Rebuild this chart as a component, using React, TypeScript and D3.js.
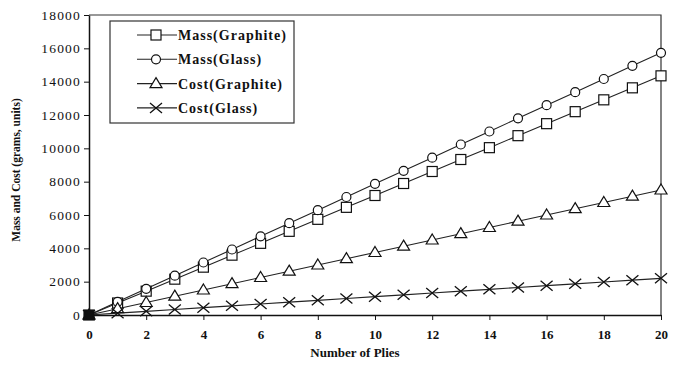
import React, { useEffect, useRef } from "react";
import * as d3 from "d3";

// number of plies on the x axis
const plies = [0, 1, 2, 3, 4, 5, 6, 7, 8, 9, 10, 11, 12, 13, 14, 15, 16, 17, 18, 19, 20];

// values
const massGraphite = [0, 720, 1430, 2150, 2870, 3590, 4300, 5020, 5740, 6460, 7170, 7890, 8610, 9330, 10040, 10760, 11480, 12200, 12910, 13630, 14350];
const massGlass = [0, 790, 1570, 2360, 3150, 3930, 4720, 5510, 6290, 7080, 7870, 8650, 9440, 10230, 11010, 11800, 12590, 13370, 14160, 14950, 15730];
const costGraphite = [0, 380, 750, 1130, 1500, 1880, 2250, 2630, 3000, 3380, 3750, 4130, 4500, 4880, 5250, 5630, 6000, 6380, 6750, 7130, 7500];
const costGlass = [0, 110, 220, 330, 440, 550, 660, 770, 880, 990, 1100, 1210, 1320, 1430, 1540, 1650, 1760, 1870, 1980, 2090, 2200];

const seriesNames = ["Mass(Graphite)", "Mass(Glass)", "Cost(Graphite)", "Cost(Glass)"];
const seriesShapes = ["square", "circle", "triangle", "cross"];
const xTicks = [0, 2, 4, 6, 8, 10, 12, 14, 16, 18, 20];
const yTicks = [0, 2000, 4000, 6000, 8000, 10000, 12000, 14000, 16000, 18000];

const W = 686;
const H = 365;
const margin = { top: 15, right: 25, bottom: 50, left: 89 };
const FONT = "'Liberation Serif', 'DejaVu Serif', serif";

const drawMarker = (g: any, shape: string, x: number, y: number, filled: boolean) => {
    const fill = filled ? "#111" : "#fff";
    if (shape === "square") {
        g.append("rect").attr("x", x - 5).attr("y", y - 5).attr("width", 10).attr("height", 10)
            .attr("fill", fill).attr("stroke", "#111").attr("stroke-width", 1.2);
    } else if (shape === "circle") {
        g.append("circle").attr("cx", x).attr("cy", y).attr("r", 4.5)
            .attr("fill", fill).attr("stroke", "#111").attr("stroke-width", 1.2);
    } else if (shape === "triangle") {
        g.append("path").attr("d", `M${x},${y - 6}L${x + 6},${y + 4}L${x - 6},${y + 4}Z`)
            .attr("fill", fill).attr("stroke", "#111").attr("stroke-width", 1.2);
    } else {
        g.append("path").attr("d", `M${x - 6},${y - 5}L${x + 6},${y + 5}M${x - 6},${y + 5}L${x + 6},${y - 5}`)
            .attr("fill", "none").attr("stroke", "#111").attr("stroke-width", 1.3);
    }
};

export default function App() {
    const ref = useRef<SVGSVGElement>(null);

    useEffect(() => {
        const svg = d3.select(ref.current);
        svg.selectAll("*").remove();

        const width = W - margin.left - margin.right;
        const height = H - margin.top - margin.bottom;

        const x = d3.scaleLinear().domain([0, 20]).range([0, width]);
        const y = d3.scaleLinear().domain([0, 18000]).range([height, 0]);

        const g = svg.append("g").attr("transform", `translate(${margin.left},${margin.top})`);

        // frame: top and right
        g.append("path").attr("d", `M0,0H${width}V${height}`).attr("fill", "none").attr("stroke", "#333").attr("stroke-width", 1.2);

        // x axis
        const xa = g.append("g").attr("transform", `translate(0,${height})`)
            .call(d3.axisBottom(x).tickValues(xTicks).tickSize(5).tickSizeOuter(0).tickFormat(d3.format("d")));
        xa.select(".domain").attr("stroke", "#111").attr("stroke-width", 1.5);
        xa.selectAll("line").attr("stroke", "#111");
        xa.selectAll("text").attr("font-family", FONT).attr("font-size", 13).attr("font-weight", "bold").attr("fill", "#111").attr("dy", "1.2em");

        // y axis
        const ya = g.append("g")
            .call(d3.axisLeft(y).tickValues(yTicks).tickSize(5).tickSizeOuter(0).tickFormat(d3.format("d")));
        ya.select(".domain").attr("stroke", "#111").attr("stroke-width", 1.5);
        ya.selectAll("line").attr("stroke", "#111");
        ya.selectAll("text").attr("font-family", FONT).attr("font-size", 13.5).attr("letter-spacing", 1.2)
            .attr("fill", "#111").attr("x", -8);

        // series
        const allSeries = [massGraphite, massGlass, costGraphite, costGlass];
        const line = d3.line<number>().x((d, i) => x(plies[i])).y(d => y(d));
        allSeries.forEach((vals) => {
            g.append("path").datum(vals).attr("d", line).attr("fill", "none").attr("stroke", "#222").attr("stroke-width", 1.1);
        });
        allSeries.forEach((vals, si) => {
            const mg = g.append("g");
            vals.forEach((v, i) => drawMarker(mg, seriesShapes[si], x(plies[i]), y(v), i === 0));
        });

        // legend
        const lg = svg.append("g");
        lg.append("rect").attr("x", 110).attr("y", 21).attr("width", 184).attr("height", 102)
            .attr("fill", "#fff").attr("stroke", "#333").attr("stroke-width", 1.2);
        seriesNames.forEach((name, i) => {
            const ly = 35 + i * 24.3;
            lg.append("line").attr("x1", 137).attr("x2", 177).attr("y1", ly).attr("y2", ly).attr("stroke", "#222").attr("stroke-width", 1.1);
            drawMarker(lg, seriesShapes[i], 156, ly, false);
            lg.append("text").attr("x", 178).attr("y", ly).attr("dy", "0.35em").attr("font-family", FONT)
                .attr("font-size", 14).attr("font-weight", "bold").attr("letter-spacing", 1.0).attr("fill", "#111").text(name);
        });

        // axis titles
        svg.append("text").attr("x", margin.left + width / 2 - 20).attr("y", 357).attr("text-anchor", "middle")
            .attr("font-family", FONT).attr("font-size", 13).attr("font-weight", "bold").attr("fill", "#111").text("Number of Plies");
        svg.append("text").attr("transform", `translate(20,${margin.top + height / 2 + 5}) rotate(-90)`).attr("text-anchor", "middle")
            .attr("font-family", FONT).attr("font-size", 11.5).attr("font-weight", "bold").attr("fill", "#111").text("Mass and Cost (grams, units)");
    }, []);

    return (
        <svg ref={ref} width={W} height={H} style={{ position: "absolute", left: 0, top: 0, background: "#fff" }} />
    );
}
